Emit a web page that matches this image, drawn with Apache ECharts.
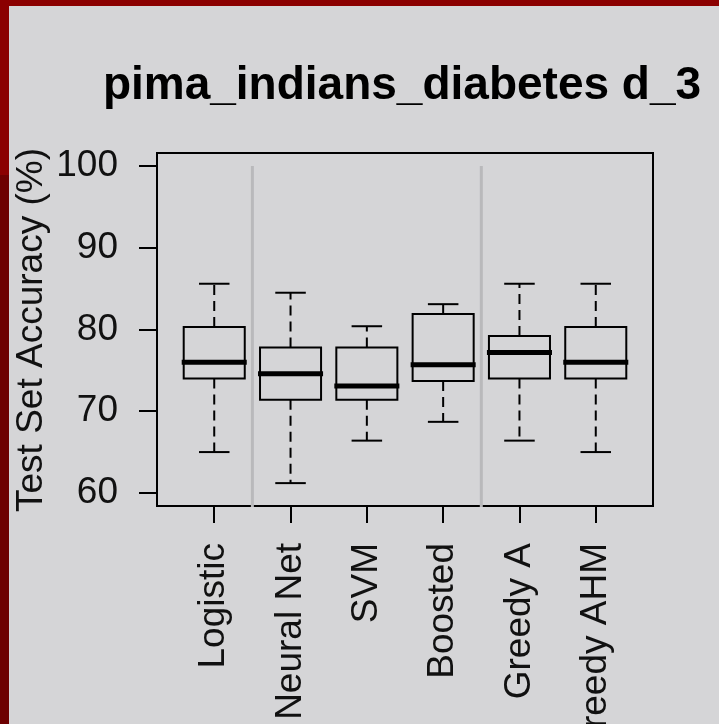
<!DOCTYPE html>
<html>
<head>
<meta charset="utf-8">
<script src="https://cdn.jsdelivr.net/npm/echarts@6/dist/echarts.min.js"></script>
<style>
  html, body { margin: 0; padding: 0; background: #d5d5d7; }
  #chart { width: 719px; height: 724px; }
</style>
</head>
<body>
<div id="chart"></div>
<script>
// Test-set accuracy (%) of six classifiers on pima_indians_diabetes, depth 3
const categories = ['Logistic', 'Neural Net', 'SVM', 'Boosted', 'Greedy A', 'Greedy AHM'];
const lowerWhisker = [65.0, 61.2, 66.4, 68.7, 66.4, 65.0];
const lowerQuartile = [74.0, 71.4, 71.4, 73.7, 74.0, 74.0];
const medians = [76.0, 74.6, 73.1, 75.7, 77.2, 76.0];
const upperQuartile = [80.3, 77.8, 77.8, 81.9, 79.2, 80.3];
const upperWhisker = [85.6, 84.5, 80.4, 83.1, 85.6, 85.6];
const yTicks = [60, 70, 80, 90, 100];
const groupSeparators = [1.5, 4.5];

const FONT = '"Liberation Sans", Arial, Helvetica, sans-serif';

const boxData = categories.map((c, i) => [
  i + 1, lowerWhisker[i], lowerQuartile[i], medians[i], upperQuartile[i], upperWhisker[i]
]);

function renderBox(params, api) {
  const x = api.value(0);
  const lo = api.coord([x, api.value(1)]);
  const q1 = api.coord([x, api.value(2)]);
  const med = api.coord([x, api.value(3)]);
  const q3 = api.coord([x, api.value(4)]);
  const hi = api.coord([x, api.value(5)]);
  const bw = api.size([0.8, 0])[0];
  const cap = bw / 2;
  const cx = lo[0];
  const solid = { stroke: '#000', lineWidth: 2, fill: null };
  const dashed = { stroke: '#000', lineWidth: 2, lineDash: [10, 6] };
  return {
    type: 'group',
    children: [
      { type: 'line', shape: { x1: cx, y1: q3[1], x2: cx, y2: hi[1] }, style: dashed },
      { type: 'line', shape: { x1: cx, y1: q1[1], x2: cx, y2: lo[1] }, style: dashed },
      { type: 'line', shape: { x1: cx - cap / 2, y1: hi[1], x2: cx + cap / 2, y2: hi[1] }, style: solid },
      { type: 'line', shape: { x1: cx - cap / 2, y1: lo[1], x2: cx + cap / 2, y2: lo[1] }, style: solid },
      { type: 'rect', shape: { x: cx - bw / 2, y: q3[1], width: bw, height: q1[1] - q3[1] }, style: solid },
      { type: 'line', shape: { x1: cx - bw / 2 - 2, y1: med[1], x2: cx + bw / 2 + 2, y2: med[1] },
        style: { stroke: '#000', lineWidth: 5 } }
    ]
  };
}

function renderSeparator(params, api) {
  const x = api.value(0);
  const top = api.coord([x, 100]);
  const bottom = api.coord([x, 58.4]);
  return {
    type: 'line',
    shape: { x1: top[0], y1: top[1], x2: bottom[0], y2: bottom[1] + 1 },
    style: { stroke: '#b9b9bb', lineWidth: 3 }
  };
}

const chart = echarts.init(document.getElementById('chart'), null, { renderer: 'canvas' });
chart.setOption({
  backgroundColor: '#d5d5d7',
  animation: false,
  grid: {
    left: 157, top: 153, width: 496, height: 353,
    outerBoundsMode: 'none', containLabel: false,
    show: true, borderColor: '#000', borderWidth: 2, backgroundColor: 'transparent'
  },
  xAxis: {
    type: 'value', min: 0.25, max: 6.75,
    axisLine: { show: true, lineStyle: { color: '#000', width: 2 } },
    splitLine: { show: false },
    axisTick: { show: true, length: 17, customValues: [1, 2, 3, 4, 5, 6], lineStyle: { color: '#000', width: 2 } },
    axisLabel: {
      show: true, customValues: [1, 2, 3, 4, 5, 6], rotate: 90, margin: 37,
      formatter: v => categories[Math.round(v) - 1] || '',
      color: '#111', fontFamily: FONT, fontSize: 37
    }
  },
  yAxis: {
    type: 'value', min: 58.4, max: 101.6,
    axisLine: { show: true, lineStyle: { color: '#000', width: 2 } },
    splitLine: { show: false },
    axisTick: { show: true, length: 18, customValues: yTicks, lineStyle: { color: '#000', width: 2 } },
    axisLabel: {
      show: true, customValues: yTicks, margin: 39,
      color: '#111', fontFamily: FONT, fontSize: 37
    }
  },
  graphic: [
    { type: 'rect', left: 0, top: 0, shape: { width: 719, height: 6 }, style: { fill: '#8b0000' }, z: 10 },
    { type: 'rect', left: 0, top: 0, shape: { width: 9, height: 175 }, style: { fill: '#8b0000' }, z: 10 },
    { type: 'rect', left: 0, top: 175, shape: { width: 9, height: 549 }, style: { fill: '#6d0000' }, z: 10 },
    {
      type: 'text', x: 402, y: 86,
      style: { text: 'pima_indians_diabetes d_3', fill: '#000', font: 'bold 46px ' + FONT,
        textAlign: 'center', textVerticalAlign: 'middle' }
    },
    {
      type: 'text', x: 32, y: 330, rotation: Math.PI / 2,
      style: { text: 'Test Set Accuracy (%)', fill: '#111', font: '37px ' + FONT,
        textAlign: 'center', textVerticalAlign: 'middle' }
    }
  ],
  series: [
    {
      type: 'custom', name: 'separators', renderItem: renderSeparator,
      data: groupSeparators.map(v => [v]), encode: { x: 0 }, z: 3, silent: true
    },
    {
      type: 'custom', name: 'accuracy', renderItem: renderBox,
      data: boxData, encode: { x: 0, y: [1, 2, 3, 4, 5] }, z: 4, silent: true
    }
  ]
});
</script>
</body>
</html>
